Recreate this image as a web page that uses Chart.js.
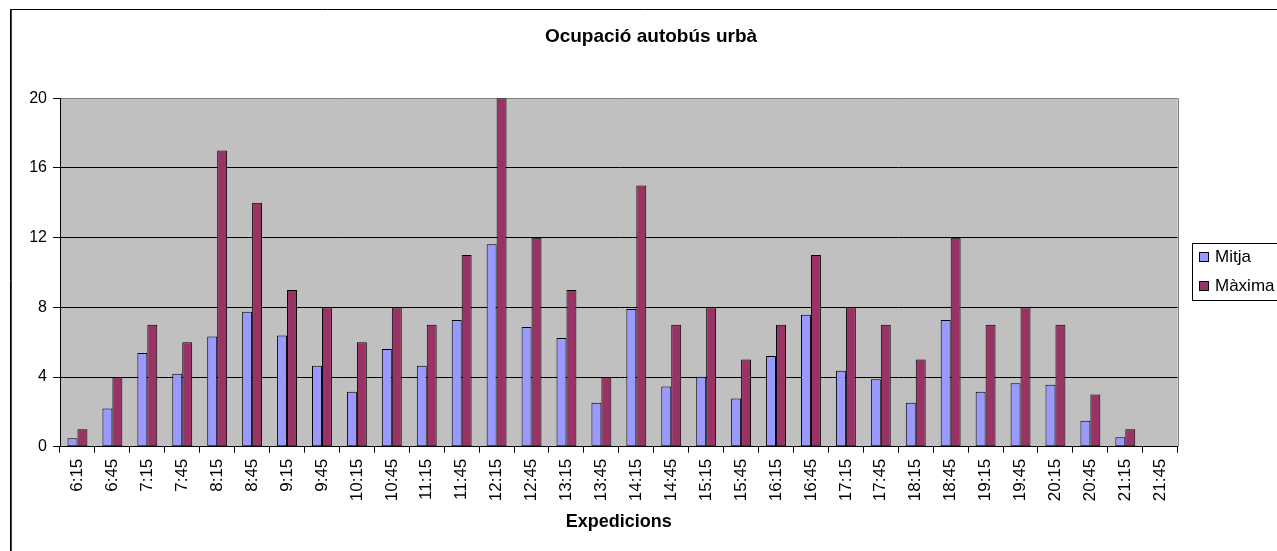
<!DOCTYPE html>
<html>
<head>
<meta charset="utf-8">
<script src="https://cdn.jsdelivr.net/npm/chart.js@4/dist/chart.umd.min.js"></script>
<style>
  html, body { margin: 0; padding: 0; background: #fff; }
  #wrap { position: relative; width: 1277px; height: 551px; }
</style>
</head>
<body>
<div id="wrap"><canvas id="busChart"></canvas></div>
<script>
// Ocupació autobús urbà

const expedicions = ['6:15','6:45','7:15','7:45','8:15','8:45','9:15','9:45','10:15','10:45',
  '11:15','11:45','12:15','12:45','13:15','13:45','14:15','14:45','15:15','15:45',
  '16:15','16:45','17:15','17:45','18:15','18:45','19:15','19:45','20:15','20:45',
  '21:15','21:45'];
const mitja = [0.48, 2.2, 5.38, 4.19, 6.32, 7.75, 6.39, 4.65, 3.16, 5.61,
  4.65, 7.27, 11.62, 6.87, 6.24, 2.53, 7.9, 3.46, 4.02, 2.76,
  5.2, 7.58, 4.36, 3.87, 2.53, 7.27, 3.16, 3.64, 3.56, 1.49,
  0.54, null];
const maxima = [1, 4, 7, 6, 17, 14, 9, 8, 6, 8,
  7, 11, 20, 12, 9, 4, 15, 7, 8, 5,
  7, 11, 8, 7, 5, 12, 7, 8, 7, 3,
  1, null];
const yTicks = [0, 4, 8, 12, 16, 20];

const FONT = "'Liberation Sans', Arial, sans-serif";

// plot background, outer frame, title and the boxed legend (Excel look)
const excelLook = {
  id: 'excelLook',
  beforeDraw(chart) {
    const { ctx, chartArea: a } = chart;
    ctx.save();
    ctx.fillStyle = '#c0c0c0';
    ctx.fillRect(a.left, a.top, a.right - a.left, a.bottom - a.top);
    ctx.restore();
  },
  afterDraw(chart) {
    const { ctx, chartArea: a } = chart;
    ctx.save();
    // right edge of plot
    ctx.strokeStyle = '#808080';
    ctx.lineWidth = 1;
    ctx.beginPath();
    ctx.moveTo(Math.round(a.right) + 0.5, a.top);
    ctx.lineTo(Math.round(a.right) + 0.5, a.bottom);
    ctx.stroke();

    // outer chart frame
    ctx.strokeStyle = '#000';
    ctx.beginPath();
    ctx.moveTo(1400, 9.5);
    ctx.lineTo(10.5, 9.5);
    ctx.lineTo(10.5, 600);
    ctx.stroke();
    ctx.strokeStyle = '#404040';
    ctx.beginPath();
    ctx.moveTo(11.5, 10);
    ctx.lineTo(11.5, 600);
    ctx.stroke();

    // title
    ctx.fillStyle = '#000';
    ctx.font = 'bold 19px ' + FONT;
    ctx.textAlign = 'center';
    ctx.textBaseline = 'middle';
    ctx.fillText('Ocupació autobús urbà', 651, 37);

    // legend
    ctx.strokeStyle = '#000';
    ctx.strokeRect(1192.5, 243.5, 200, 57);
    ctx.font = '17px ' + FONT;
    ctx.textAlign = 'left';
    const rowsY = [257, 286];
    chart.data.datasets.forEach((ds, i) => {
      const y = rowsY[i];
      ctx.fillStyle = ds.backgroundColor;
      ctx.fillRect(1199.5, y - 4.5, 9, 9);
      ctx.strokeRect(1199.5, y - 4.5, 9, 9);
      ctx.fillStyle = '#000';
      ctx.fillText(ds.label, 1215, y);
    });
    ctx.restore();
  }
};

new Chart(document.getElementById('busChart'), {
  type: 'bar',
  data: {
    labels: expedicions,
    datasets: [
      { label: 'Mitja', data: mitja, backgroundColor: '#9999ff', borderColor: '#000', borderWidth: 1, borderSkipped: false },
      { label: 'Màxima', data: maxima, backgroundColor: '#993366', borderColor: '#000', borderWidth: 1, borderSkipped: false }
    ]
  },
  options: {
    responsive: true,
    maintainAspectRatio: false,
    animation: false,
    layout: { padding: { left: 0, right: 99.3, top: 98.3, bottom: 14.5 } },
    datasets: { bar: { barPercentage: 1, categoryPercentage: 0.57 } },
    plugins: {
      legend: { display: false },
      title: { display: false },
      tooltip: { enabled: false }
    },
    scales: {
      x: {
        afterFit(scale) { scale.height = 89.8; },
        grid: { offset: true, drawOnChartArea: false, color: '#000', tickLength: 6 },
        border: { color: '#000' },
        ticks: {
          color: '#000', font: { family: FONT, size: 17 },
          maxRotation: 90, minRotation: 90, padding: 6, autoSkip: false
        },
        title: {
          display: true, text: 'Expedicions', color: '#000',
          font: { family: FONT, size: 18, weight: 'bold' }
        }
      },
      y: {
        min: 0, max: 20,
        afterFit(scale) { scale.width = 60; },
        afterBuildTicks(scale) { scale.ticks = yTicks.map(v => ({ value: v })); },
        grid: {
          color: ctx => (ctx.tick && ctx.tick.value === 20 ? '#808080' : '#000'),
          tickColor: '#000', tickLength: 7
        },
        border: { color: '#000' },
        ticks: { color: '#000', font: { family: FONT, size: 16 }, padding: 6 }
      }
    }
  },
  plugins: [excelLook]
});
</script>
</body>
</html>
